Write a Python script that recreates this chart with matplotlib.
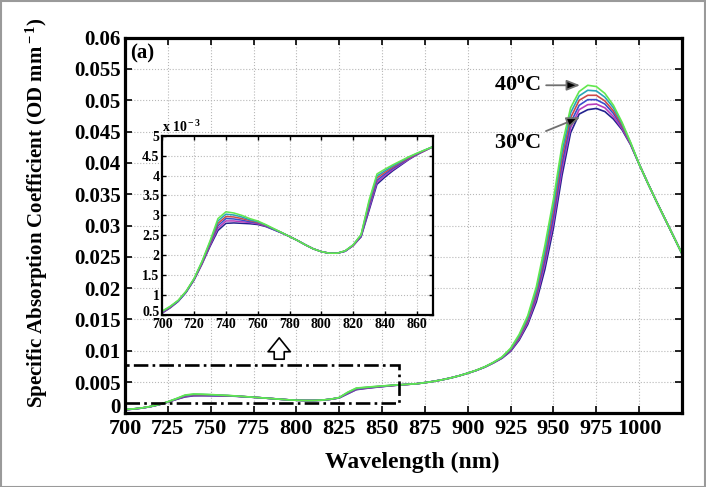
import numpy as np
import matplotlib
matplotlib.use("Agg")
import matplotlib.pyplot as plt
import matplotlib.patches as mpatches
from matplotlib.ticker import FuncFormatter
from matplotlib.transforms import ScaledTranslation

plt.rcParams["font.family"] = ["Liberation Serif", "DejaVu Serif"]
plt.rcParams["font.weight"] = "bold"
plt.rcParams["axes.labelweight"] = "bold"
plt.rcParams["mathtext.fontset"] = "custom"
plt.rcParams["mathtext.rm"] = "Liberation Serif:bold"
plt.rcParams["mathtext.bf"] = "Liberation Serif:bold"
plt.rcParams["mathtext.it"] = "Liberation Serif:bold:italic"

# wavelength grid (nm) and specific absorption (x 1e-3 OD/mm) per temperature
wavelength = [700, 705, 710, 715, 720, 725, 730, 735, 740, 745,
              750, 755, 760, 765, 770, 775, 780, 785, 790, 795,
              800, 805, 810, 815, 820, 825, 830, 835, 840, 845,
              850, 855, 860, 865, 870, 875, 880, 885, 890, 895,
              900, 905, 910, 915, 920, 925, 930, 935, 940, 945,
              950, 955, 960, 965, 970, 975, 980, 985, 990, 995,
              1000, 1005, 1010, 1015, 1020, 1025]

abs_30 = [0.55, 0.68, 0.84, 1.07, 1.38, 1.78, 2.22, 2.62, 2.80, 2.81,
          2.80, 2.79, 2.77, 2.72, 2.64, 2.56, 2.47, 2.37, 2.26, 2.16,
          2.09, 2.05, 2.05, 2.10, 2.24, 2.46, 3.12, 3.78, 3.96, 4.12,
          4.26, 4.40, 4.52, 4.62, 4.72, 4.90, 5.10, 5.35, 5.65, 6.00,
          6.40, 6.85, 7.38, 8.05, 8.80, 9.90, 11.7, 14.2, 17.8, 23.0,
          29.6, 38.0, 44.8, 47.8, 48.5, 48.7, 48.2, 47.0, 45.3, 42.9,
          39.8, 36.8, 33.9, 31.1, 28.3, 25.5]
abs_32 = [0.56, 0.69, 0.85, 1.08, 1.39, 1.79, 2.25, 2.68, 2.86, 2.86,
          2.84, 2.82, 2.79, 2.73, 2.65, 2.56, 2.47, 2.37, 2.26, 2.16,
          2.09, 2.05, 2.05, 2.10, 2.24, 2.47, 3.17, 3.83, 4.00, 4.15,
          4.28, 4.41, 4.53, 4.62, 4.72, 4.90, 5.10, 5.35, 5.65, 6.00,
          6.40, 6.86, 7.39, 8.07, 8.84, 10.0, 11.9, 14.5, 18.3, 23.8,
          30.5, 39.0, 45.6, 48.5, 49.3, 49.4, 48.8, 47.4, 45.5, 43.0,
          39.8, 36.8, 33.9, 31.1, 28.3, 25.5]
abs_34 = [0.57, 0.70, 0.85, 1.08, 1.40, 1.81, 2.28, 2.74, 2.92, 2.91,
          2.88, 2.84, 2.81, 2.74, 2.65, 2.56, 2.47, 2.37, 2.26, 2.16,
          2.09, 2.05, 2.05, 2.10, 2.25, 2.48, 3.22, 3.88, 4.04, 4.18,
          4.30, 4.43, 4.54, 4.63, 4.72, 4.90, 5.10, 5.35, 5.65, 6.00,
          6.41, 6.86, 7.40, 8.09, 8.88, 10.1, 12.1, 14.8, 18.8, 24.5,
          31.4, 39.9, 46.4, 49.2, 50.1, 50.1, 49.4, 47.9, 45.8, 43.1,
          39.8, 36.8, 33.9, 31.1, 28.3, 25.5]
abs_36 = [0.58, 0.70, 0.86, 1.09, 1.40, 1.82, 2.30, 2.80, 2.97, 2.96,
          2.92, 2.87, 2.82, 2.75, 2.66, 2.57, 2.47, 2.37, 2.26, 2.16,
          2.09, 2.05, 2.05, 2.11, 2.25, 2.50, 3.28, 3.94, 4.08, 4.21,
          4.33, 4.44, 4.54, 4.63, 4.72, 4.90, 5.10, 5.35, 5.65, 6.00,
          6.41, 6.87, 7.42, 8.11, 8.92, 10.2, 12.2, 15.0, 19.2, 25.3,
          32.4, 40.9, 47.2, 50.0, 50.8, 50.8, 49.9, 48.3, 46.0, 43.1,
          39.8, 36.8, 33.9, 31.1, 28.3, 25.5]
abs_38 = [0.59, 0.71, 0.86, 1.09, 1.41, 1.84, 2.33, 2.86, 3.03, 3.01,
          2.96, 2.89, 2.84, 2.76, 2.66, 2.57, 2.47, 2.37, 2.26, 2.16,
          2.09, 2.05, 2.05, 2.11, 2.26, 2.51, 3.33, 3.99, 4.12, 4.24,
          4.35, 4.46, 4.55, 4.64, 4.72, 4.90, 5.10, 5.35, 5.65, 6.00,
          6.42, 6.87, 7.43, 8.13, 8.96, 10.3, 12.4, 15.3, 19.7, 26.0,
          33.3, 41.8, 48.0, 50.7, 51.6, 51.5, 50.5, 48.8, 46.3, 43.2,
          39.8, 36.8, 33.9, 31.1, 28.3, 25.5]
abs_40 = [0.60, 0.72, 0.87, 1.10, 1.42, 1.85, 2.36, 2.92, 3.09, 3.06,
          3.00, 2.92, 2.86, 2.77, 2.67, 2.57, 2.47, 2.37, 2.26, 2.16,
          2.09, 2.05, 2.05, 2.11, 2.26, 2.52, 3.38, 4.04, 4.16, 4.27,
          4.37, 4.47, 4.56, 4.64, 4.72, 4.90, 5.10, 5.35, 5.65, 6.00,
          6.42, 6.88, 7.44, 8.15, 9.00, 10.4, 12.6, 15.6, 20.2, 26.8,
          34.2, 42.8, 48.8, 51.4, 52.4, 52.2, 51.1, 49.2, 46.5, 43.3,
          39.8, 36.8, 33.9, 31.1, 28.3, 25.5]

curves = [abs_30, abs_32, abs_34, abs_36, abs_38, abs_40]
colors = ["#22228e", "#b83cbc", "#3a4ccc", "#cc4a4a", "#28a4b8", "#62e84e"]

fig = plt.figure(figsize=(7.06, 4.87), dpi=100)
ax = fig.add_axes([0.177, 0.1513, 0.789, 0.7713])

wl = np.array(wavelength)
for vals, c in zip(curves, colors):
    ax.plot(wl, np.array(vals) * 1e-3, color=c, lw=1.2)

ax.set_xlim(700, 1025)
ax.set_ylim(0, 0.06)
ax.set_xticks(np.arange(700, 1001, 25))
ax.set_yticks(np.arange(0, 0.0601, 0.005))
ax.yaxis.set_major_formatter(FuncFormatter(lambda v, _: "%g" % round(v, 4)))
ax.grid(True, color="#b8b8b8", ls=":", lw=0.8)
ax.tick_params(direction="in", top=True, right=True, length=5, width=1.2)
ax.tick_params(axis="x", labelsize=16, pad=4)
ax.tick_params(axis="y", labelsize=15, pad=3)
for sp in ax.spines.values():
    sp.set_linewidth(2.3)

ax.set_xlabel("Wavelength (nm)", fontsize=17, va="center")
ax.xaxis.set_label_coords(0.515, -0.13)
ax.set_ylabel("Specific Absorption Coefficient (OD mm$^{\\rm -1}$)", fontsize=15,
              va="center")
ax.yaxis.set_label_coords(-0.158, 0.535)

ax.text(0.01, 0.985, "(a)", transform=ax.transAxes, fontsize=15, va="top", ha="left")

# zoom box and pointer
ax.add_patch(mpatches.Rectangle((700, 0.0017), 160, 0.006, fill=False, ec="black",
                                lw=1.9, ls=(0, (5.5, 1.6, 1, 1.6)), zorder=3))
ax.annotate("", xy=(790, 0.0125), xytext=(790, 0.0082),
            arrowprops=dict(arrowstyle="simple,head_length=0.5,head_width=0.8,tail_width=0.36",
                            fc="white", ec="black", lw=1.2, mutation_scale=20))

arrow_kw = dict(arrowstyle="-|>,head_length=0.5,head_width=0.2", fc="black",
                ec="#707070", lw=1.3, shrinkA=2, shrinkB=0)
ax.annotate("40$^{\\rm o}$C", xy=(965.5, 0.0524), xytext=(942.5, 0.0524),
            fontsize=16, ha="right", va="center", arrowprops=arrow_kw)
ax.annotate("30$^{\\rm o}$C", xy=(965.5, 0.0473), xytext=(942.5, 0.0432),
            fontsize=16, ha="right", va="center", arrowprops=arrow_kw)

# inset
ins = fig.add_axes([0.2299, 0.3532, 0.3829, 0.3682])
for vals, c in zip(curves, colors):
    ins.plot(wl, vals, color=c, lw=1.1)
ins.set_xlim(700, 870)
ins.set_ylim(0.5, 5)
ins.set_xticks(np.arange(700, 861, 20))
ins.set_yticks(np.arange(0.5, 5.01, 0.5))
ins.yaxis.set_major_formatter(FuncFormatter(lambda v, _: "%g" % v))
ins.grid(True, color="#b8b8b8", ls=":", lw=0.8)
ins.tick_params(direction="in", top=True, right=True, length=3, width=1.0,
                labelsize=10, pad=2)
for sp in ins.spines.values():
    sp.set_linewidth(1.6)
ins.text(0.0, 1.005, "x 10$^{\\rm -3}$", transform=ins.transAxes, fontsize=10,
         ha="left", va="bottom")

# lift the lowest y labels a little, as in the original
fig.canvas.draw()
for a, dy in ((ax, 8), (ins, 4)):
    lab = a.yaxis.get_major_ticks()[0].label1
    lab.set_transform(lab.get_transform() + ScaledTranslation(0, dy / 100, fig.dpi_scale_trans))

fig.add_artist(mpatches.Rectangle((0.001, 0.001), 0.998, 0.997, transform=fig.transFigure,
                                  fill=False, ec="#9a9a9a", lw=1.5))

fig.savefig("out.png", dpi=100)
